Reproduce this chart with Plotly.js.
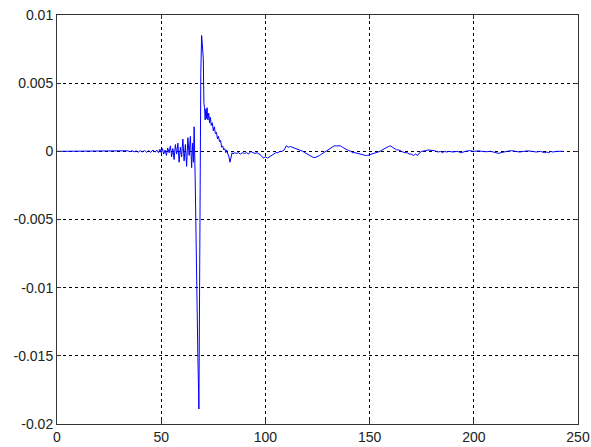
<!DOCTYPE html>
<html>
<head>
<meta charset="utf-8">
<script src="https://cdn.plot.ly/plotly-3.0.1.min.js"></script>
<style>
html,body{margin:0;padding:0;background:#fff;}
#chart{width:591px;height:447px;}
</style>
</head>
<body>
<div id="chart"></div>
<script>
var xs = [0, 33, 34, 35, 36, 37, 38, 39, 40, 41, 42, 43, 44, 45, 46, 47, 48, 48.7, 49.4,
  50, 50.6, 51.2, 51.9, 52.5, 53.1, 53.8, 54.4, 55, 55.6, 56.2, 56.8, 57.4, 58, 58.6, 59.2, 59.8,
  60.4, 61, 61.6, 62.2, 62.8, 63.4, 64, 64.6, 65.1, 65.5, 65.8, 66.3, 66.7, 67.1, 67.6, 68.1, 68.6,
  69.0, 69.4, 69.8, 70.2, 70.5, 70.8, 71.1, 71.4, 71.7, 72.0, 72.4, 72.8, 73.2, 73.6, 74, 74.5, 75, 75.5,
  76, 76.5, 77, 77.5, 78, 78.5, 79, 79.5, 80, 80.5, 81, 81.5, 82, 82.5, 83, 83.5, 84, 84.5, 85,
  86, 87, 88, 89, 90, 91, 92, 93, 94, 95, 96, 97, 98, 99, 100, 101, 102, 103, 104, 105, 106, 107, 108, 109,
  110, 111, 112, 113, 114, 115, 116, 117, 118, 119, 120, 121, 122, 123, 124, 125, 126, 127, 128, 129,
  130, 131, 132, 133, 134, 135, 136, 137, 138, 139, 140, 141, 142, 143, 144, 145, 146, 147, 148, 149,
  150, 151, 152, 153, 154, 155, 156, 157, 158, 159, 160, 161, 162, 163, 164, 165, 166, 167, 168, 169,
  170, 171, 172, 173, 174, 175, 176, 177, 178, 179, 180, 181, 182, 183, 184, 185, 186, 187, 188, 190,
  192, 194, 196, 198, 200, 202, 204, 206, 208, 210, 211, 212, 213, 214, 216, 218, 220, 222, 224, 226,
  228, 230, 232, 234, 235, 236, 237, 238, 240, 242, 243];
var ys = [0, 0, 0.00004, -0.00003, 0.00005, -0.00004, 0.00003, -0.00006, 0.00005, -0.00004, 0.00006, -0.00007, 0.00005, -0.00008, 0.0001, -0.00006, 0.00008, -0.0001, 0.00015,
  -0.0001, 0.0002, -0.0002, 0.0001, -0.0003, 0.00025, -0.0001, 0.0004, -0.0004, 0.0002, -0.0006, 0.0005, -0.0002, 0.0006, -0.0008, 0.0003, -0.0004,
  0.0009, -0.0007, 0.0005, -0.0011, 0.001, -0.0003, 0.0011, -0.0012, 0.0006, -0.0008, 0.0018, -0.0019, -0.0071, -0.0105, -0.0151, -0.0189, -0.0012,
  0.0057, 0.0085, 0.0074, 0.0068, 0.0035, 0.0032, 0.0023, 0.0031, 0.0024, 0.0032, 0.0023, 0.0028, 0.0021, 0.0025, 0.0019, 0.0021, 0.0015, 0.0018,
  0.0013, 0.0014, 0.0009, 0.0011, 0.0007, 0.0008, 0.0003, 0.0004, 0.0001, 0.0002, -0.0001, 0.0001, -0.0002, -0.0004, -0.0008, -0.0003, -0.0001, -0.0002, -0.0001,
  -0.00015, -0.0001, -0.0002, -0.0001, -0.00015, -0.0001, -0.0002, 0, -0.0001, -0.00015, -0.0001, -0.0002, -0.0003, -0.0005, -0.0004, -0.0005, -0.0004, -0.0003, -0.0002, -0.0001, -0.0001, 0, 0, 0.0001,
  0.0004, 0.0003, 0.00035, 0.0003, 0.0002, 0.0002, 0.0001, 0.0001, 0, -0.0001, -0.0002, -0.0003, -0.0004, -0.00045, -0.00045, -0.0004, -0.0003, -0.0002, -0.0001, 0,
  0.0001, 0.0002, 0.0003, 0.0004, 0.0004, 0.0004, 0.0004, 0.0003, 0.0002, 0.0001, 0.00005, 0, -0.0001, -0.0001, -0.00015, -0.0002, -0.0002, -0.00025, -0.0003, -0.0003,
  -0.00025, -0.0002, -0.0002, -0.0001, -0.0001, 0, 0.0001, 0.0002, 0.0003, 0.00035, 0.0004, 0.0003, 0.0002, 0.0001, 0.0001, 0, -0.00005, -0.0001, -0.0001, -0.0002,
  -0.0002, -0.0003, -0.0002, -0.0003, -0.0001, 0, 0, 0.00005, 0.0001, 0.0001, 0.0001, 0.00005, 0, -0.00005, 0, -0.0001, 0, -0.00005, 0, -0.00005,
  0, -0.0001, 0, 0.00005, 0, 0.00003, 0, -0.00003, 0, -0.00005, -0.0001, -0.00015, -0.0001, -0.00005, 0, 0.00005, 0, -0.00005, 0, 0.00003,
  0, -0.00005, 0, -0.0001, -0.00005, -0.0001, 0, -0.00005, 0, -0.00003, 0];

var xTickVals = [0, 50, 100, 150, 200, 250];
var xTickText = ['0', '50', '100', '150', '200', '250'];
var yTickVals = [0.01, 0.005, 0, -0.005, -0.01, -0.015, -0.02];
var yTickText = ['0.01', '0.005', '0', '-0.005', '-0.01', '-0.015', '-0.02'];

var tickFont = {family: 'Liberation Sans, Arial, sans-serif', size: 14, color: '#222'};

var trace = {
  x: xs, y: ys, type: 'scatter', mode: 'lines',
  line: {color: '#0000ff', width: 1},
  hoverinfo: 'skip'
};

var layout = {
  width: 591, height: 447,
  margin: {l: 57, r: 13, t: 15, b: 23, pad: 0},
  paper_bgcolor: '#ffffff', plot_bgcolor: '#ffffff',
  showlegend: false,
  xaxis: {
    range: [0, 250], tickvals: xTickVals, ticktext: xTickText,
    showgrid: true, gridcolor: '#000000', gridwidth: 1, griddash: '3px,3px',
    zeroline: false, showline: true, linecolor: '#333333', linewidth: 1, mirror: 'ticks',
    ticks: 'inside', ticklen: 4, tickcolor: '#333333',
    tickfont: tickFont
  },
  yaxis: {
    range: [-0.02, 0.01], tickvals: yTickVals, ticktext: yTickText,
    showgrid: true, gridcolor: '#000000', gridwidth: 1, griddash: '3px,3px',
    zeroline: false, showline: true, linecolor: '#333333', linewidth: 1, mirror: 'ticks',
    ticks: 'inside', ticklen: 4, tickcolor: '#333333',
    tickfont: tickFont
  }
};

Plotly.newPlot('chart', [trace], layout, {staticPlot: true, displayModeBar: false});
</script>
</body>
</html>
